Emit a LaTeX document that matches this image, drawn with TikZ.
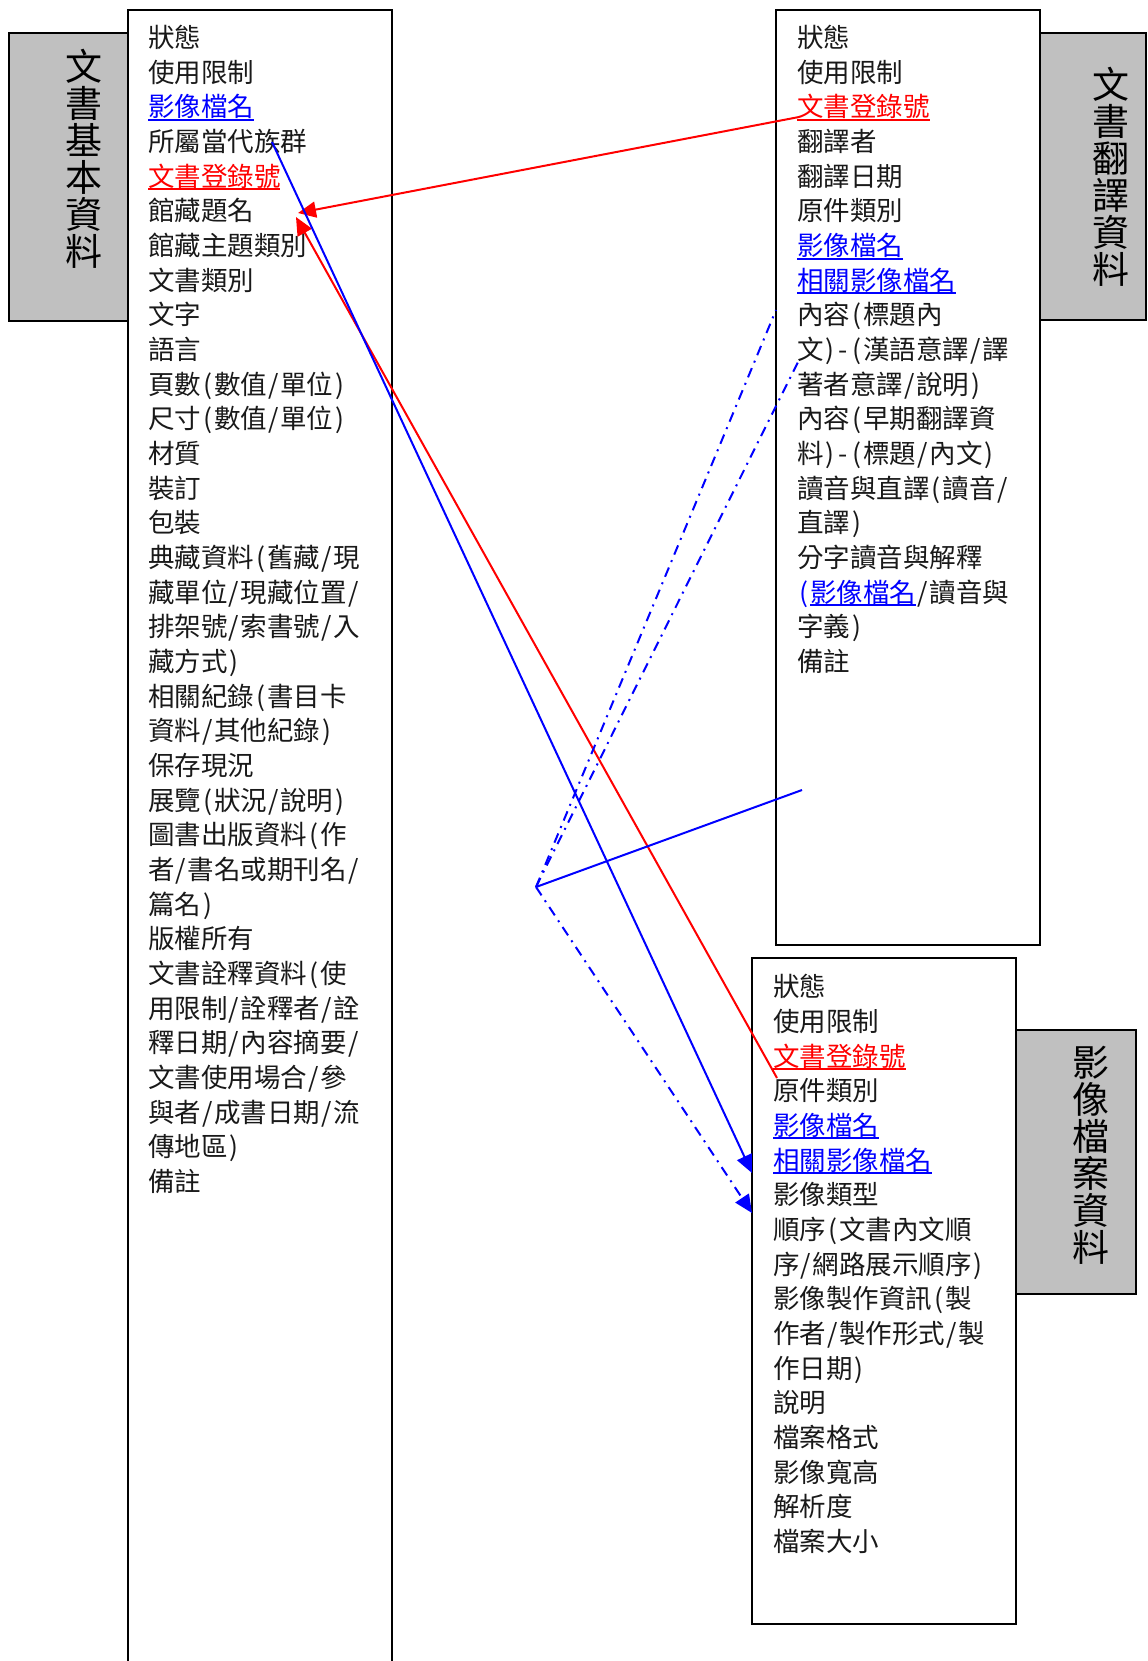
\documentclass[tikz,border=0pt]{standalone}
\usepackage{fontspec}
\setmainfont{Noto Sans CJK TC}
\usetikzlibrary{arrows.meta}
\definecolor{tabgray}{HTML}{C0C0C0}
\definecolor{refred}{HTML}{FF0000}
\definecolor{lnkblue}{HTML}{0000FF}
\newcommand\zlp{\makebox[.5em][c]{(}}
\newcommand\zrp{\makebox[.5em][c]{)}}
\newcommand\zsl{\makebox[.5em][c]{/}}
\newcommand\zhy{\makebox[.5em][c]{-}}
\newcommand\zblp{{\color{lnkblue}\zlp}}
\newcommand\cul[2]{{\color{#1}\setbox0\hbox{#2}\rlap{\rule[-2pt]{\wd0}{1pt}}\box0}}
\begin{document}
\begin{tikzpicture}[x=0.5pt,y=-0.5pt,
  listitem/.style={anchor=base west, inner sep=0pt, outer sep=0pt, font=\fontsize{13.25}{13.25}\selectfont, text=black!90},
  graytab/.style={draw=black, fill=tabgray, line width=1pt},
  boxline/.style={draw=black, line width=1pt},
  tablabel/.style={align=center, inner sep=0pt, font=\fontsize{18.5}{18.5}\selectfont, text=black},
  redln/.style={draw=refred, line width=1pt},
  blueln/.style={draw=lnkblue, line width=1pt},
  dd/.style={blueln, dash pattern=on 5pt off 3pt on 1pt off 3pt},
  arr/.style={-{Triangle[length=9pt,width=8pt]}}
]
\useasboundingbox (0,0) rectangle (1147,1661);

% gray side tabs
\path[graytab] (9,33) rectangle (128,321);
\node[tablabel] (LTab) at (84,159) {文\\書\\基\\本\\資\\料};
\path[graytab] (1040,33) rectangle (1146,320);
\node[tablabel] (RTab) at (1111,177) {文\\書\\翻\\譯\\資\\料};
\path[graytab] (1016,1030) rectangle (1136,1294);
\node[tablabel] (BTab) at (1091,1155) {影\\像\\檔\\案\\資\\料};

% list boxes
\draw[boxline] (128,1675) -- (128,10) -- (392,10) -- (392,1675);
\draw[boxline] (776,10) rectangle (1040,945);
\draw[boxline] (752,958) rectangle (1016,1624);

% left list
\foreach \t [count=\i] in {狀態,使用限制,\cul{lnkblue}{影像檔名},所屬當代族群,\cul{refred}{文書登錄號},館藏題名,館藏主題類別,文書類別,文字,語言,頁數\zlp 數值\zsl 單位\zrp,尺寸\zlp 數值\zsl 單位\zrp,材質,裝訂,包裝,典藏資料\zlp 舊藏\zsl 現,藏單位\zsl 現藏位置\zsl,排架號\zsl 索書號\zsl 入,藏方式\zrp,相關紀錄\zlp 書目卡,資料\zsl 其他紀錄\zrp,保存現況,展覽\zlp 狀況\zsl 說明\zrp,圖書出版資料\zlp 作,者\zsl 書名或期刊名\zsl,篇名\zrp,版權所有,文書詮釋資料\zlp 使,用限制\zsl 詮釋者\zsl 詮,釋日期\zsl 內容摘要\zsl,文書使用場合\zsl 參,與者\zsl 成書日期\zsl 流,傳地區\zrp,備註}
  \node[listitem] (L\i) at (148,{47.5+(\i-1)*34.67}) {\t};

% right-top list
\foreach \t [count=\i] in {狀態,使用限制,\cul{refred}{文書登錄號},翻譯者,翻譯日期,原件類別,\cul{lnkblue}{影像檔名},\cul{lnkblue}{相關影像檔名},內容\zlp 標題內,文\zrp\zhy\zlp 漢語意譯\zsl 譯,著者意譯\zsl 說明\zrp,內容\zlp 早期翻譯資,料\zrp\zhy\zlp 標題\zsl 內文\zrp,讀音與直譯\zlp 讀音\zsl,直譯\zrp,分字讀音與解釋,\zblp\cul{lnkblue}{影像檔名}\zsl 讀音與,字義\zrp,備註}
  \node[listitem] (T\i) at (797,{47.5+(\i-1)*34.67}) {\t};

% bottom list
\foreach \t [count=\i] in {狀態,使用限制,\cul{refred}{文書登錄號},原件類別,\cul{lnkblue}{影像檔名},\cul{lnkblue}{相關影像檔名},影像類型,順序\zlp 文書內文順,序\zsl 網路展示順序\zrp,影像製作資訊\zlp 製,作者\zsl 製作形式\zsl 製,作日期\zrp,說明,檔案格式,影像寬高,解析度,檔案大小}
  \node[listitem] (B\i) at (773,{996.7+(\i-1)*34.67}) {\t};

% connector end points
\coordinate (redA) at (799,117);
\coordinate (redAtip) at (298,213);
\coordinate (redB) at (777,1078);
\coordinate (redBtip) at (296,217);
\coordinate (blueA) at (272,142);
\coordinate (blueAtip) at (752,1173);
\coordinate (blueB) at (802,790);
\coordinate (vtx) at (536,887);
\coordinate (ddA) at (776,310);
\coordinate (ddB) at (800,358);
\coordinate (ddCtip) at (752,1213);

% connectors
\draw[redln,arr] (redA) -- (redAtip);
\draw[redln,arr] (redB) -- (redBtip);
\draw[blueln,arr] (blueA) -- (blueAtip);
\draw[blueln] (blueB) -- (vtx);
\draw[dd] (vtx) -- (ddA);
\draw[dd] (vtx) -- (ddB);
\draw[dd,arr] (vtx) -- (ddCtip);
\end{tikzpicture}
\end{document}
